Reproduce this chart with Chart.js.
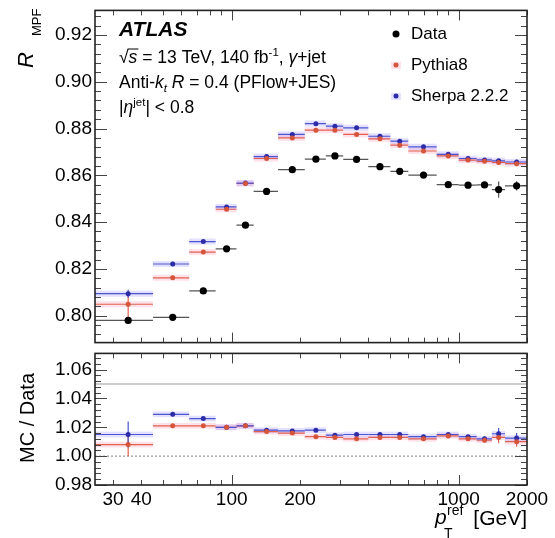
<!DOCTYPE html>
<html><head><meta charset="utf-8">
<script src="https://cdn.jsdelivr.net/npm/chart.js@4/dist/chart.umd.min.js"></script>
<style>
html,body{margin:0;padding:0;background:#fff;width:555px;height:538px;overflow:hidden;position:relative}
#top{position:absolute;left:0;top:-4px}
#bot{position:absolute;left:0;top:339px}
</style></head><body>
<canvas id="top" width="555" height="361"></canvas>
<canvas id="bot" width="555" height="199"></canvas>
<script>
// ---- data ----
const binEdges   = [25,45,65,85,105,125,160,210,260,310,400,500,600,800,1000,1200,1400,1600,2000];
const binCenters = [35,55,75,95,115,142.5,185,235,285,355,450,550,700,900,1100,1300,1500,1800];
const dataVals   = [0.7980,0.7993,0.8106,0.8286,0.8387,0.8531,0.8624,0.8669,0.8683,0.8668,0.8637,0.8617,0.8601,0.8560,0.8558,0.8559,0.8539,0.8555];
const dataErr    = [0.0015,0.0005,0.0004,0.0004,0.0004,0.0004,0.0004,0.0004,0.0004,0.0004,0.0004,0.0004,0.0004,0.0005,0.0006,0.0008,0.0035,0.0020];
const pythiaVals = [0.8049,0.8162,0.8272,0.8455,0.8565,0.8672,0.8760,0.8793,0.8793,0.8775,0.8756,0.8729,0.8704,0.8683,0.8665,0.8660,0.8655,0.8650];
const pythiaErr  = [0.0055,0.0008,0.0006,0.0005,0.0005,0.0005,0.0005,0.0005,0.0005,0.0005,0.0005,0.0005,0.0005,0.0005,0.0006,0.0007,0.0008,0.0010];
const sherpaVals = [0.8094,0.8221,0.8317,0.8465,0.8567,0.8680,0.8775,0.8821,0.8810,0.8803,0.8767,0.8746,0.8722,0.8690,0.8672,0.8666,0.8662,0.8657];
const sherpaErr  = [0.0017,0.0008,0.0006,0.0005,0.0005,0.0005,0.0005,0.0005,0.0005,0.0005,0.0005,0.0005,0.0005,0.0005,0.0006,0.0007,0.0008,0.0010];
const pythiaRatio    = [1.008,1.021,1.021,1.020,1.021,1.017,1.016,1.0135,1.013,1.012,1.013,1.013,1.012,1.014,1.012,1.011,1.013,1.010];
const pythiaRatioErr = [0.008,0.0015,0.001,0.001,0.001,0.001,0.001,0.001,0.001,0.001,0.001,0.001,0.001,0.001,0.0012,0.0015,0.004,0.0035];
const sherpaRatio    = [1.015,1.029,1.026,1.020,1.021,1.018,1.0175,1.018,1.0145,1.015,1.015,1.015,1.0135,1.015,1.0135,1.012,1.0155,1.0125];
const sherpaRatioErr = [0.009,0.0015,0.001,0.001,0.001,0.001,0.001,0.001,0.001,0.001,0.001,0.001,0.001,0.001,0.0012,0.0015,0.004,0.0035];
const yTicksTop   = [0.80,0.82,0.84,0.86,0.88,0.90,0.92];
const yTicksBot   = [0.98,1.00,1.02,1.04,1.06];
const xTickLabels = [30,40,100,200,1000,2000];

const FONT = '"Liberation Sans", Arial, Helvetica, sans-serif';
const C_DATA='#000', C_PY='#d4553a', C_SH='#2c2ca8';
const C_PY_LINE='#e0604c', C_SH_LINE='#4a55d0';
const C_PY_BAND='rgba(255,120,160,0.22)', C_SH_BAND='rgba(130,120,255,0.22)';
const TOP_OY = -4, BOT_OY = 339;   // page offsets of the two canvases

function pts(vals){ return binCenters.map((c,i)=>({x:c,y:vals[i]})); }

const barsPlugin = {
  id:'bars',
  beforeDatasetsDraw(chart){
    const ctx=chart.ctx, xs=chart.scales.x, ys=chart.scales.y, ca=chart.chartArea;
    ctx.save();
    ctx.beginPath(); ctx.rect(ca.left,ca.top,ca.right-ca.left,ca.bottom-ca.top); ctx.clip();
    const ref = chart.options.plugins.refLines;
    if(ref){
      ctx.strokeStyle='#9a9a9a'; ctx.lineWidth=1.2;
      ref.solid.forEach(v=>{const y=ys.getPixelForValue(v); ctx.beginPath(); ctx.moveTo(ca.left,y); ctx.lineTo(ca.right,y); ctx.stroke();});
      ctx.setLineDash([2,2]);
      ref.dotted.forEach(v=>{const y=ys.getPixelForValue(v); ctx.beginPath(); ctx.moveTo(ca.left,y); ctx.lineTo(ca.right,y); ctx.stroke();});
      ctx.setLineDash([]);
    }
    chart.data.datasets.forEach(ds=>{
      if(!ds.band) return;
      ctx.fillStyle=ds.band;
      ds.data.forEach((p,i)=>{
        const x0=xs.getPixelForValue(binEdges[i]), x1=xs.getPixelForValue(binEdges[i+1]);
        const y0=ys.getPixelForValue(p.y+ds.bandH), y1=ys.getPixelForValue(p.y-ds.bandH);
        ctx.fillRect(x0,y0,x1-x0,y1-y0);
      });
    });
    chart.data.datasets.forEach(ds=>{
      ctx.strokeStyle=ds.barColor; ctx.lineWidth=1.2;
      ds.data.forEach((p,i)=>{
        const x0=xs.getPixelForValue(binEdges[i]), x1=xs.getPixelForValue(binEdges[i+1]);
        const xc=xs.getPixelForValue(p.x), yc=ys.getPixelForValue(p.y);
        ctx.beginPath(); ctx.moveTo(x0,yc); ctx.lineTo(x1,yc); ctx.stroke();
        const e=ds.errs[i];
        ctx.beginPath(); ctx.moveTo(xc,ys.getPixelForValue(p.y-e)); ctx.lineTo(xc,ys.getPixelForValue(p.y+e)); ctx.stroke();
      });
    });
    ctx.restore();
  }
};

const frameTicksPlugin = {
  id:'frameTicks',
  afterDraw(chart){
    const o=chart.options.plugins.frameTicks; if(!o) return;
    const ctx=chart.ctx, ca=chart.chartArea, xs=chart.scales.x, ys=chart.scales.y;
    ctx.save();
    ctx.strokeStyle='#444'; ctx.lineWidth=1;
    const xMinor=[30,40,50,60,70,80,90,200,300,400,500,600,700,800,900,2000], xMajor=[100,1000];
    const tick=(x1,y1,x2,y2)=>{ctx.beginPath();ctx.moveTo(x1,y1);ctx.lineTo(x2,y2);ctx.stroke();};
    xMinor.concat(xMajor).forEach(v=>{
      const x=Math.round(xs.getPixelForValue(v))+0.5, L=xMajor.includes(v)?10:5;
      tick(x,ca.bottom,x,ca.bottom-L); tick(x,ca.top,x,ca.top+L);
    });
    const step=o.minor, k0=Math.ceil(ys.min/step-1e-6), k1=Math.floor(ys.max/step+1e-6);
    for(let k=k0;k<=k1;k++){
      const v=k*step, y=Math.round(ys.getPixelForValue(v))+0.5;
      const maj=Math.abs(v/o.major-Math.round(v/o.major))<1e-6, L=maj?12:6;
      tick(ca.left,y,ca.left+L,y); tick(ca.right,y,ca.right-L,y);
    }
    ctx.strokeStyle='#222'; ctx.lineWidth=1.6;
    ctx.strokeRect(ca.left,ca.top,ca.right-ca.left,ca.bottom-ca.top);
    ctx.restore();
  }
};

// rich text helper: parts [{t, f, dy}]
function rich(ctx,x,y,parts){
  parts.forEach(p=>{
    ctx.font=p.f; ctx.fillText(p.t,x,y+(p.dy||0));
    const w=ctx.measureText(p.t).width;
    if(p.over){ ctx.save(); ctx.lineWidth=1; ctx.beginPath(); ctx.moveTo(x-1,y-14); ctx.lineTo(x+w+1,y-14); ctx.stroke(); ctx.restore(); }
    x+=w;
  });
  return x;
}

const textTopPlugin = {
  id:'textTop',
  afterDraw(chart){
    const ctx=chart.ctx; ctx.save();
    ctx.translate(0,-TOP_OY);   // draw in page coordinates
    ctx.fillStyle='#000'; ctx.strokeStyle='#000'; ctx.textBaseline='alphabetic'; ctx.textAlign='left';
    const N='17.5px '+FONT, I='italic 17.5px '+FONT, S='11.5px '+FONT, SI='italic 11.5px '+FONT;
    rich(ctx,119,36,[{t:'ATLAS',f:'italic bold 21px '+FONT}]);
    rich(ctx,119,63,[{t:'√',f:N},{t:'s',f:I,over:true},{t:' = 13 TeV, 140 fb',f:N},{t:'-1',f:S,dy:-7},{t:', ',f:N},{t:'γ',f:I},{t:'+jet',f:N}]);
    rich(ctx,119,88,[{t:'Anti-',f:N},{t:'k',f:I},{t:'t',f:SI,dy:4},{t:' ',f:N},{t:'R',f:I},{t:' = 0.4 (PFlow+JES)',f:N}]);
    rich(ctx,119,113,[{t:'|',f:N},{t:'η',f:I},{t:'jet',f:S,dy:-7},{t:'| < 0.8',f:N}]);
    // legend
    const LF='17px '+FONT;
    ctx.font=LF; ctx.textBaseline='middle';
    ctx.fillText('Data',411,34); ctx.fillText('Pythia8',411,65); ctx.fillText('Sherpa 2.2.2',411,96);
    ctx.beginPath(); ctx.arc(396,34,3.5,0,2*Math.PI); ctx.fill();
    ctx.fillStyle=C_PY_BAND; ctx.fillRect(391,62,10,7);
    ctx.fillStyle=C_PY; ctx.beginPath(); ctx.arc(396,65,2.5,0,2*Math.PI); ctx.fill();
    ctx.fillStyle=C_SH_BAND; ctx.fillRect(391,93,10,7);
    ctx.fillStyle=C_SH; ctx.beginPath(); ctx.arc(396,96,2.5,0,2*Math.PI); ctx.fill();
    // y title
    ctx.fillStyle='#000'; ctx.textBaseline='alphabetic';
    ctx.translate(33,68); ctx.rotate(-Math.PI/2);
    ctx.font='italic 22px '+FONT; ctx.fillText('R',0,0);
    ctx.font='13px '+FONT; ctx.fillText('MPF',32,8);
    ctx.restore();
  }
};

const textBotPlugin = {
  id:'textBot',
  afterDraw(chart){
    const ctx=chart.ctx; ctx.save();
    ctx.translate(0,-BOT_OY);   // page coordinates
    ctx.fillStyle='#000'; ctx.textBaseline='alphabetic';
    ctx.save(); ctx.translate(34,418); ctx.rotate(-Math.PI/2);
    ctx.font='20px '+FONT; ctx.textAlign='center'; ctx.fillText('MC / Data',0,0); ctx.restore();
    ctx.textAlign='left';
    ctx.font='italic 21px '+FONT; ctx.fillText('p',435,524);
    ctx.font='14px '+FONT; ctx.fillText('ref',447,515); ctx.fillText('T',444,538);
    ctx.textAlign='right'; ctx.font='21px '+FONT; ctx.fillText('[GeV]',527,525);
    ctx.restore();
  }
};

function ds(label,vals,errs,color,barColor,radius,band,bandH){
  return {label,data:pts(vals),errs,barColor,band,bandH,
    backgroundColor:color,borderColor:color,pointRadius:radius,pointHoverRadius:radius,pointBorderWidth:0,showLine:false};
}

const commonX = {type:'logarithmic',min:25,max:2000};

new Chart(document.getElementById('top'),{
  type:'scatter',
  data:{datasets:[
    ds('Pythia8',pythiaVals,pythiaErr,C_PY,C_PY_LINE,2.5,C_PY_BAND,0.0013),
    ds('Sherpa 2.2.2',sherpaVals,sherpaErr,C_SH,C_SH_LINE,2.5,C_SH_BAND,0.0013),
    ds('Data',dataVals,dataErr,C_DATA,'#555',3.6,null,0)
  ]},
  options:{
    responsive:false,animation:false,devicePixelRatio:1,
    layout:{padding:{top:0,right:28,bottom:0,left:0}},
    plugins:{legend:{display:false},tooltip:{enabled:false},frameTicks:{major:0.02,minor:0.004}},
    scales:{
      x:Object.assign({display:false},commonX),
      y:{type:'linear',min:0.7885,max:0.9305,
        afterBuildTicks:s=>{s.ticks=yTicksTop.map(v=>({value:v}));},
        afterFit:s=>{s.width=95;},
        ticks:{callback:v=>v.toFixed(2),font:{family:FONT,size:19},color:'#000',padding:3},
        grid:{display:false,drawTicks:false},border:{display:false}}
    }
  },
  plugins:[barsPlugin,frameTicksPlugin,textTopPlugin]
});

new Chart(document.getElementById('bot'),{
  type:'scatter',
  data:{datasets:[
    ds('Pythia8',pythiaRatio,pythiaRatioErr,C_PY,C_PY_LINE,2.5,C_PY_BAND,0.002),
    ds('Sherpa 2.2.2',sherpaRatio,sherpaRatioErr,C_SH,C_SH_LINE,2.5,C_SH_BAND,0.002)
  ]},
  options:{
    responsive:false,animation:false,devicePixelRatio:1,
    layout:{padding:{top:0,right:28,bottom:0,left:0}},
    plugins:{legend:{display:false},tooltip:{enabled:false},frameTicks:{major:0.02,minor:0.004},
      refLines:{solid:[1.05],dotted:[1.00]}},
    scales:{
      x:Object.assign({
        afterBuildTicks:s=>{s.ticks=xTickLabels.map(v=>({value:v}));},
        afterFit:s=>{s.height=53;},
        ticks:{callback:v=>String(v),autoSkip:false,maxRotation:0,font:{family:FONT,size:19},color:'#000',padding:3},
        grid:{display:false,drawTicks:false},border:{display:false}},commonX),
      y:{type:'linear',min:0.98,max:1.0712,
        afterBuildTicks:s=>{s.ticks=yTicksBot.map(v=>({value:v}));},
        afterFit:s=>{s.width=95;},
        ticks:{callback:v=>v.toFixed(2),font:{family:FONT,size:19},color:'#000',padding:3},
        grid:{display:false,drawTicks:false},border:{display:false}}
    }
  },
  plugins:[barsPlugin,frameTicksPlugin,textBotPlugin]
});
</script>
</body></html>
